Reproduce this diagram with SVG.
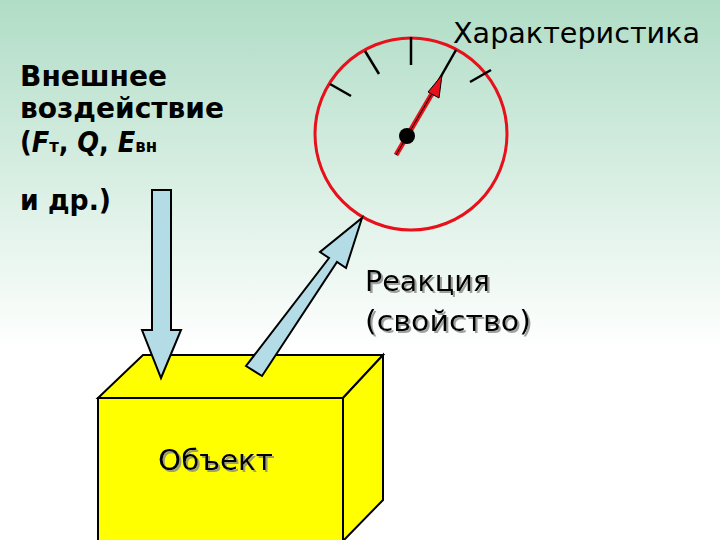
<svg xmlns="http://www.w3.org/2000/svg" width="720" height="540" viewBox="0 0 720 540">
<defs>
<linearGradient id="bg" x1="0" y1="0" x2="0" y2="1">
<stop offset="0" stop-color="#b0ddc6"/><stop offset="0.65" stop-color="#ffffff"/><stop offset="1" stop-color="#ffffff"/>
</linearGradient>
<filter id="sh" x="-5%" y="-20%" width="110%" height="140%">
<feDropShadow dx="2" dy="2" stdDeviation="0.5" flood-color="#888" flood-opacity="0.8"/>
</filter>
<style>
.t{font-family:"DejaVu Sans","Liberation Sans",sans-serif;font-size:28px;fill:#000}
.sh{filter:url(#sh)}
.b{font-weight:bold}
.arr{fill:#b3dce6;stroke:#000;stroke-width:2;stroke-linejoin:miter}
.box{fill:#ffff00;stroke:#000;stroke-width:2}
.tick{stroke:#000;stroke-width:2.5}
</style>
</defs>
<rect width="720" height="540" fill="url(#bg)"/>
<g id="gauge">
<circle cx="411" cy="134" r="96" fill="none" stroke="#e8101a" stroke-width="3"/>
<line class="tick" x1="330" y1="84" x2="351" y2="96"/>
<line class="tick" x1="365" y1="51" x2="379" y2="74"/>
<line class="tick" x1="411" y1="37" x2="411" y2="65"/>
<line class="tick" x1="470" y1="82" x2="491" y2="70"/>
<line x1="407" y1="136" x2="456" y2="50" stroke="#000" stroke-width="2.5"/>
<line x1="396" y1="155" x2="433" y2="92" stroke="#e8101a" stroke-width="5"/>
<line x1="396" y1="155" x2="433" y2="92" stroke="#000" stroke-width="1"/>
<polygon points="442,75 439,98 428,92" fill="#e8101a" stroke="#000" stroke-width="1"/>
<circle cx="407" cy="136" r="8" fill="#000"/>
</g>
<g id="box">
<polygon class="box" points="98,398 143,355 383,355 343,398"/>
<polygon class="box" points="343,398 383,355 383,500 343,541"/>
<rect class="box" x="98" y="398" width="245" height="143"/>
<text class="t sh" x="158" y="470" textLength="115" lengthAdjust="spacingAndGlyphs">Объект</text>
</g>
<g id="connectors">
<polygon class="arr" points="152,190 171,190 171,330 181,330 161,378 142,330 152,330"/>
<polygon class="arr" points="246,366 262,376 337,262 346,268 362,218 320,252 329,258"/>
</g>
<g id="labels">
<text class="t" x="453" y="43" textLength="247" lengthAdjust="spacingAndGlyphs">Характеристика</text>
<text class="t b" x="20" y="86" textLength="147" lengthAdjust="spacingAndGlyphs">Внешнее</text>
<text class="t b" x="20" y="118" textLength="204" lengthAdjust="spacingAndGlyphs">воздействие</text>
<text class="t b" x="20" y="152" textLength="137" lengthAdjust="spacingAndGlyphs">(<tspan font-style="italic">F</tspan><tspan font-size="18">т</tspan>, <tspan font-style="italic">Q</tspan>, <tspan font-style="italic">E</tspan><tspan font-size="18">вн</tspan></text>
<text class="t b" x="20" y="210" textLength="91" lengthAdjust="spacingAndGlyphs">и др.)</text>
<text class="t sh" x="365" y="291" textLength="125" lengthAdjust="spacingAndGlyphs">Реакция</text>
<text class="t sh" x="365" y="331" textLength="166" lengthAdjust="spacingAndGlyphs">(свойство)</text>
</g>
</svg>
